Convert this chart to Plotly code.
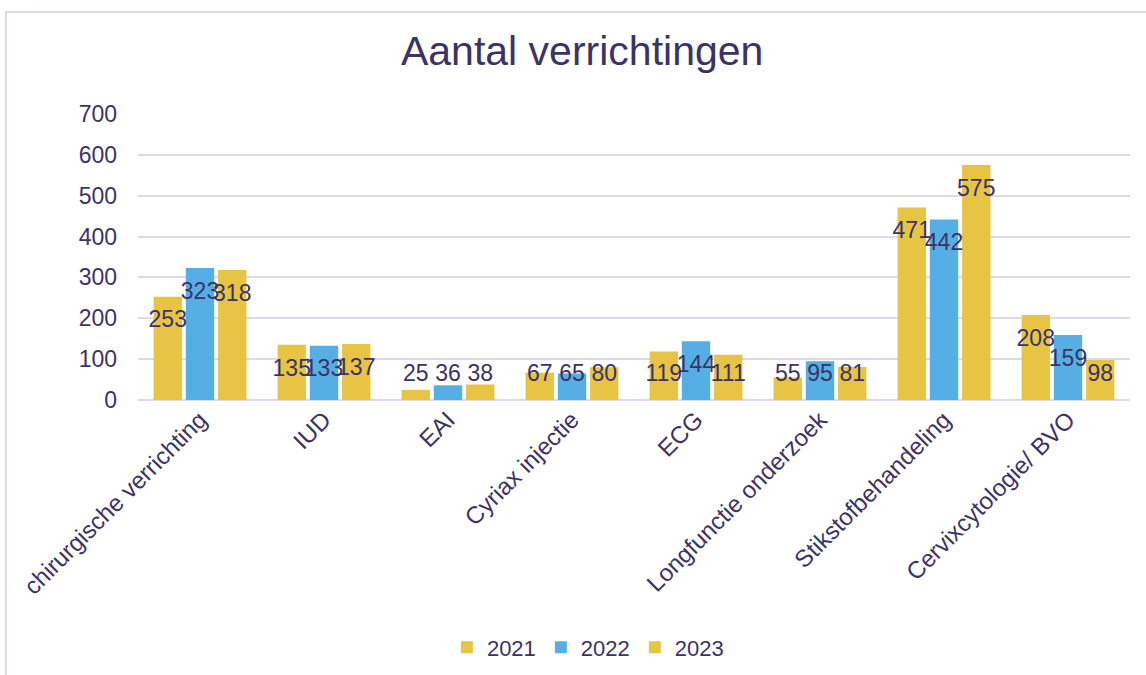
import plotly.graph_objects as go

categories = ["chirurgische verrichting", "IUD", "EAI", "Cyriax injectie", "ECG",
              "Longfunctie onderzoek", "Stikstofbehandeling", "Cervixcytologie/ BVO"]
series_names = ["2021", "2022", "2023"]
values_2021 = [253, 135, 25, 67, 119, 55, 471, 208]
values_2022 = [323, 133, 36, 65, 144, 95, 442, 159]
values_2023 = [318, 137, 38, 80, 111, 81, 575, 98]
y_ticks = [0, 100, 200, 300, 400, 500, 600, 700]

TXT = "#3B3366"
FONT = "Liberation Sans, Arial, sans-serif"
YELLOW = "#E8C445"
BLUE = "#55AEE4"
colors = [YELLOW, BLUE, YELLOW]
all_values = [values_2021, values_2022, values_2023]

fig = go.Figure()
for name, vals, col in zip(series_names, all_values, colors):
    fig.add_trace(go.Bar(
        x=categories, y=vals, name=name, offsetgroup=name,
        marker=dict(color=col, line=dict(width=0)),
    ))
for name, vals in zip(series_names, all_values):
    label_y = [max(v - 61, 61) for v in vals]
    fig.add_trace(go.Scatter(
        x=categories, y=label_y, mode="text", text=[str(v) for v in vals],
        textposition="middle center", offsetgroup=name, showlegend=False,
        textfont=dict(size=23, color=TXT, family=FONT), hoverinfo="skip",
        cliponaxis=False,
    ))

fig.update_layout(
    width=1146, height=675,
    paper_bgcolor="white", plot_bgcolor="white",
    margin=dict(l=138, r=16, t=114, b=275),
    barmode="group", bargap=0.22, bargroupgap=0.12,
    scattermode="group", scattergap=0.22,
    font=dict(family=FONT, color=TXT, size=22),
    title=dict(text="Aantal verrichtingen", x=0.508, xanchor="center",
               xref="container", y=0.925, yanchor="middle", yref="container",
               font=dict(size=41, color=TXT, family=FONT)),
    showlegend=True,
    legend=dict(orientation="h", xref="container", yref="container",
                x=0.513, xanchor="center", y=0.041, yanchor="middle",
                font=dict(size=22, color=TXT, family=FONT),
                itemwidth=30, traceorder="normal"),
    xaxis=dict(tickangle=-45, tickfont=dict(size=24, color=TXT, family=FONT),
               showgrid=False, showline=False, ticks=""),
    yaxis=dict(range=[0, 700], tickvals=y_ticks, showgrid=True,
               gridcolor="#DCD9EC", gridwidth=1.5, zeroline=True,
               zerolinecolor="#DCD9EC", zerolinewidth=1.5, showline=False,
               tickfont=dict(size=23, color=TXT, family=FONT), ticks="",
               ticklabelstandoff=20),
    shapes=[dict(type="rect", xref="paper", yref="paper",
                 x0=-0.1331, x1=1.05, y0=-1.2, y1=1.3566,
                 line=dict(color="#DCD9EE", width=2), fillcolor="rgba(0,0,0,0)",
                 layer="below")],
)

fig.write_html("out.html", config={"displayModeBar": False},
               post_script="document.body.style.margin='0';")
